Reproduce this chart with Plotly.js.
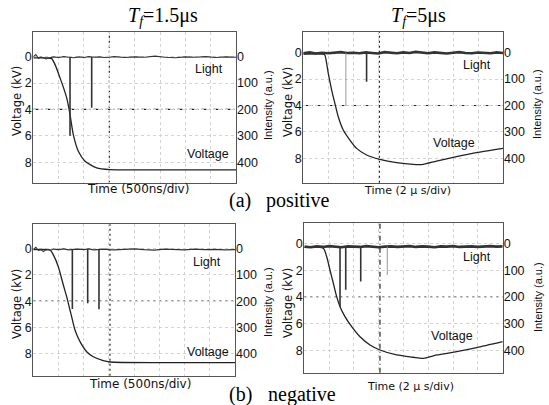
<!DOCTYPE html>
<html><head><meta charset="utf-8">
<script src="https://cdn.plot.ly/plotly-3.0.1.min.js"></script>
<style>html,body{margin:0;padding:0;background:#fff}#chart{width:549px;height:405px}</style>
</head><body><div id="chart"></div>
<script>
// ---------- (a) positive, Tf = 1.5 us (time in us, voltage in kV, light in a.u.) ----------
const tlVoltT = [0, 0.3, 0.363, 0.44, 0.527, 0.6, 0.659, 0.724, 0.789, 0.888, 1.02, 1.25, 1.51, 2.5, 4.0];
const tlVolt  = [0.1, 0.1, 0.15, 0.7, 1.61, 2.4, 3.13, 4.39, 5.91, 7.17, 7.92, 8.43, 8.56, 8.58, 8.58];
const tlLightT = [0,0.05,0.1,0.15,0.2,0.25,0.3,0.35,0.4,0.5,0.6,0.7,0.8,0.9,1.0,1.1,1.2,1.3,1.4,1.5,1.6,1.8,2.0,2.2,2.4,2.6,2.8,3.0,3.2,3.4,3.6,3.8,4.0];
const tlLight  = [0,-8,6,2,4,9,6,3,1,3,0,2,4,1,3,0,2,1,3,2,0,3,1,2,-2,2,4,1,2,0,3,1,2];
const tlSpikeT = [0.724, 1.152];
const tlSpike  = [300, 194];
const tlFaintT = [];
const tlFaint  = [];

// ---------- (a) positive, Tf = 5 us ----------
const trVoltT = [0, 1.6, 1.73, 2.0, 2.27, 2.53, 2.8, 3.2, 3.73, 4.27, 5.07, 6.13, 7.47, 8.8, 9.6, 10.67, 12.27, 13.87, 16];
const trVolt  = [0.1, 0.1, 0.18, 1.57, 2.83, 3.84, 4.85, 5.86, 6.62, 7.25, 7.75, 8.08, 8.33, 8.46, 8.46, 8.21, 7.88, 7.58, 7.25];
const trLightT = [0,0.5,1,1.5,2,2.5,3,3.5,4,4.5,5,5.5,6,6.5,7,7.5,8,8.5,9,9.5,10,10.5,11,11.5,12,12.5,13,13.5,14,14.5,15,15.5,16];
const trLight  = [2,-1,3,0,2,1,-2,1,0,2,-1,1,3,-2,0,2,-1,1,-3,0,2,-1,1,3,0,-2,1,2,-1,0,2,-1,1];
const trSpikeT = [5.07];
const trSpike  = [110];
const trFaintT = [3.41];
const trFaint  = [202];

// ---------- (b) negative, Tf = 1.5 us ----------
const blVoltT = [0, 0.33, 0.397, 0.496, 0.595, 0.661, 0.727, 0.76, 0.826, 0.926, 1.058, 1.19, 1.388, 1.52, 2.5, 4.0];
const blVolt  = [0.1, 0.13, 0.5, 1.39, 2.78, 3.66, 4.67, 5.18, 6.19, 7.07, 7.83, 8.21, 8.51, 8.61, 8.66, 8.66];
const blLightT = [0,0.05,0.1,0.15,0.2,0.25,0.3,0.35,0.4,0.5,0.6,0.7,0.8,0.9,1.0,1.1,1.2,1.3,1.4,1.5,1.6,1.8,2.0,2.2,2.4,2.6,2.8,3.0,3.2,3.4,3.6,3.8,4.0];
const blLight  = [4,-4,8,5,12,6,4,7,3,5,2,6,4,3,5,2,6,4,3,5,6,4,2,5,7,3,4,6,3,5,4,6,5];
const blSpikeT = [0.774, 1.078, 1.302];
const blSpike  = [230, 208, 231];
const blFaintT = [];
const blFaint  = [];

// ---------- (b) negative, Tf = 5 us ----------
const brVoltT = [0, 1.53, 1.8, 2.07, 2.34, 2.61, 2.88, 3.28, 3.82, 4.49, 5.3, 6.1, 7.45, 8.79, 9.6, 10.68, 12.29, 13.9, 16];
const brVolt  = [0.3, 0.36, 0.98, 1.98, 2.97, 3.97, 4.72, 5.46, 6.21, 6.96, 7.57, 7.95, 8.32, 8.49, 8.57, 8.32, 8.07, 7.77, 7.33];
const brLightT = [0,0.5,1,1.5,2,2.5,3,3.5,4,4.5,5,5.5,6,6.5,7,7.5,8,8.5,9,9.5,10,10.5,11,11.5,12,12.5,13,13.5,14,14.5,15,15.5,16];
const brLight  = [12,14,11,13,10,12,14,11,12,13,10,12,14,12,11,13,12,10,13,11,12,14,11,12,10,13,12,11,13,12,10,12,11];
const brSpikeT = [2.88, 3.34, 4.55];
const brSpike  = [236, 173, 142];
const brFaintT = [6.69];
const brFaint  = [118];

// tick labels
const voltTicks = [0, 2, 4, 6, 8];
const intenTicks = [0, 100, 200, 300, 400];
const kvToAu = 50;

const panels = [
  {vt:tlVoltT, v:tlVolt, lt:tlLightT, l:tlLight, st:tlSpikeT, s:tlSpike, ft:tlFaintT, f:tlFaint,
   xd:[0.0607,0.4299], yd:[0.5489,0.9217], xr:[0,4], yr:[-1.89,9.55], thick:1.1, refT:1.5,
   hdash:'5px,3px,1px,3px', vdash:'2px,3px', lightPos:[3.78,0.9], voltPos:[3.9,7.37]},
  {vt:trVoltT, v:trVolt, lt:trLightT, l:trLight, st:trSpikeT, s:trSpike, ft:trFaintT, f:trFaint,
   xd:[0.5525,0.9162], yd:[0.5489,0.9217], xr:[0,16], yr:[-1.59,9.85], thick:2.6, refT:6.1,
   hdash:'5px,3px,1px,3px', vdash:'2px,3px', lightPos:[15.17,0.95], voltPos:[13.94,6.82]},
  {vt:blVoltT, v:blVolt, lt:blLightT, l:blLight, st:blSpikeT, s:blSpike, ft:blFaintT, f:blFaint,
   xd:[0.0607,0.4281], yd:[0.0723,0.4462], xr:[0,4], yr:[-1.82,9.65], thick:1.1, refT:1.52,
   hdash:'2px,4px', vdash:'2px,3px', lightPos:[3.77,1.06], voltPos:[3.92,7.83]},
  {vt:brVoltT, v:brVolt, lt:brLightT, l:brLight, st:brSpikeT, s:brSpike, ft:brFaintT, f:brFaint,
   xd:[0.5543,0.9157], yd:[0.0798,0.4486], xr:[0,16], yr:[-1.5,9.64], thick:2.6, refT:6.1,
   hdash:'2px,4px', vdash:'5px,3px,1px,3px', lightPos:[15.19,1.03], voltPos:[13.77,6.9]}
];

function interp(ts, vs, t) {
  for (let i = 1; i < ts.length; i++) {
    if (t <= ts[i]) { const a = (t - ts[i-1]) / (ts[i] - ts[i-1]); return vs[i-1] + a * (vs[i] - vs[i-1]); }
  }
  return vs[vs.length - 1];
}
function spikeXY(p, ts, peaks) {
  const x = [], y = [];
  ts.forEach((t, i) => { x.push(t, t, null); y.push(interp(p.lt, p.l, t), peaks[i], null); });
  return {x, y};
}

const sans = 'Liberation Sans, Arial, sans-serif';
const dv = 'DejaVu Sans, sans-serif';
const serif = 'Liberation Serif, Times New Roman, serif';

const data = [];
const layout = {
  width: 549, height: 405, margin: {l:0, r:0, t:0, b:0},
  paper_bgcolor: '#fff', plot_bgcolor: '#fff', showlegend: false,
  shapes: [], annotations: []
};

panels.forEach((p, i) => {
  const n = i + 1;
  const xs = n === 1 ? 'x' : 'x' + n;
  const yL = 'y' + (n === 1 ? '' : (2*n - 1));
  const yR = 'y' + (2*n);
  const xKey = n === 1 ? 'xaxis' : 'xaxis' + n;
  const yLKey = n === 1 ? 'yaxis' : 'yaxis' + (2*n - 1);
  const yRKey = 'yaxis' + (2*n);
  layout[xKey] = {domain: p.xd, range: p.xr, anchor: yL, showticklabels: false, ticks: '',
    showline: true, mirror: true, linecolor: '#555', linewidth: 1, zeroline: false,
    showgrid: true, dtick: p.xr[1] / 8, tick0: 0, gridcolor: '#d2d2d2', griddash: 'dot', gridwidth: 1};
  layout[yLKey] = {domain: p.yd, anchor: xs, range: [p.yr[1], p.yr[0]], tickvals: voltTicks,
    ticktext: voltTicks.map(String), ticks: '', showline: true, mirror: true, linecolor: '#555', linewidth: 1,
    zeroline: false, showgrid: true, gridcolor: '#d2d2d2', griddash: 'dot', gridwidth: 1,
    tickfont: {family: sans, size: 12.5, color: '#111'}, ticklabelstandoff: -2};
  layout[yRKey] = {overlaying: yL, anchor: xs, side: 'right', range: [p.yr[1]*kvToAu, p.yr[0]*kvToAu],
    tickvals: intenTicks, ticks: '', showgrid: false, zeroline: false, showline: false,
    tickfont: {family: sans, size: 12.5, color: '#111'}, ticklabelstandoff: 0};

  // voltage
  data.push({type:'scatter', mode:'lines', x:p.vt, y:p.v, xaxis:xs, yaxis:yL,
    line:{color:'#222', width:1.3, shape:'spline', smoothing:0.6}, hoverinfo:'skip'});
  // light baseline
  data.push({type:'scatter', mode:'lines', x:p.lt, y:p.l, xaxis:xs, yaxis:yR,
    line:{color:'#333', width:p.thick}, hoverinfo:'skip'});
  // light spikes
  const sp = spikeXY(p, p.st, p.s);
  data.push({type:'scatter', mode:'lines', x:sp.x, y:sp.y, xaxis:xs, yaxis:yR,
    line:{color:'#333', width:1.6}, hoverinfo:'skip'});
  const fp = spikeXY(p, p.ft, p.f);
  data.push({type:'scatter', mode:'lines', x:fp.x, y:fp.y, xaxis:xs, yaxis:yR,
    line:{color:'#999', width:1}, hoverinfo:'skip'});

  // reference lines
  layout.shapes.push({type:'line', xref: xs + ' domain', x0:0, x1:1, yref: yL, y0:4, y1:4,
    line:{color:'#222', width:1.2, dash:p.hdash}, layer:'below'});
  layout.shapes.push({type:'line', xref: xs, x0:p.refT, x1:p.refT, yref: yL + ' domain', y0:0, y1:1,
    line:{color:'#222', width:1.2, dash:p.vdash}, layer:'below'});

  // in-plot labels
  layout.annotations.push({text:'Light', xref:xs, yref:yL, x:p.lightPos[0], y:p.lightPos[1],
    xanchor:'right', yanchor:'middle', showarrow:false, font:{family:sans, size:12.5, color:'#111'}});
  layout.annotations.push({text:'Voltage', xref:xs, yref:yL, x:p.voltPos[0], y:p.voltPos[1],
    xanchor:'right', yanchor:'middle', showarrow:false, font:{family:sans, size:12.5, color:'#111'}});
});

function px(x) { return x / 549; }
function py(y) { return 1 - y / 405; }
function paperText(text, x, y, font, angle) {
  layout.annotations.push({text, xref:'paper', yref:'paper', x:px(x), y:py(y), xanchor:'center', yanchor:'middle',
    showarrow:false, font, textangle: angle || 0});
}
const axFont = {family: dv, size: 11.5, color: '#111'};
const inFont = {family: sans, size: 11, color: '#111'};
// axis titles
paperText('Voltage (kV)', 17, 101, axFont, -90);
paperText('Intensity (a.u.)', 268, 105, inFont, -90);
paperText('Time (500ns/div)', 138, 189, {family: dv, size: 12, color:'#111'});
paperText('Voltage (kV)', 288, 102, axFont, -90);
paperText('Intensity (a.u.)', 537, 104, inFont, -90);
paperText('Time (2 μ s/div)', 407, 190, {family: dv, size: 11, color:'#111'});
paperText('Voltage (kV)', 17, 304, axFont, -90);
paperText('Intensity (a.u.)', 268, 302, inFont, -90);
paperText('Time (500ns/div)', 140, 384, {family: dv, size: 12, color:'#111'});
paperText('Voltage (kV)', 288, 303, axFont, -90);
paperText('Intensity (a.u.)', 538, 297, inFont, -90);
paperText('Time (2 μ s/div)', 410, 386, {family: dv, size: 11, color:'#111'});
// panel titles
const tFont = {family: serif, size: 20, color: '#000'};
paperText('<i>T</i><sub><i>f</i></sub>=1.5μs', 163, 17, tFont);
paperText('<i>T</i><sub><i>f</i></sub>=5μs', 418, 17, tFont);
paperText('(a)', 240, 200, tFont);
paperText('positive', 297, 200, tFont);
paperText('(b)', 240, 394, tFont);
paperText('negative', 302, 394, tFont);

Plotly.newPlot('chart', data, layout, {displayModeBar: false, staticPlot: true});
</script></body></html>
